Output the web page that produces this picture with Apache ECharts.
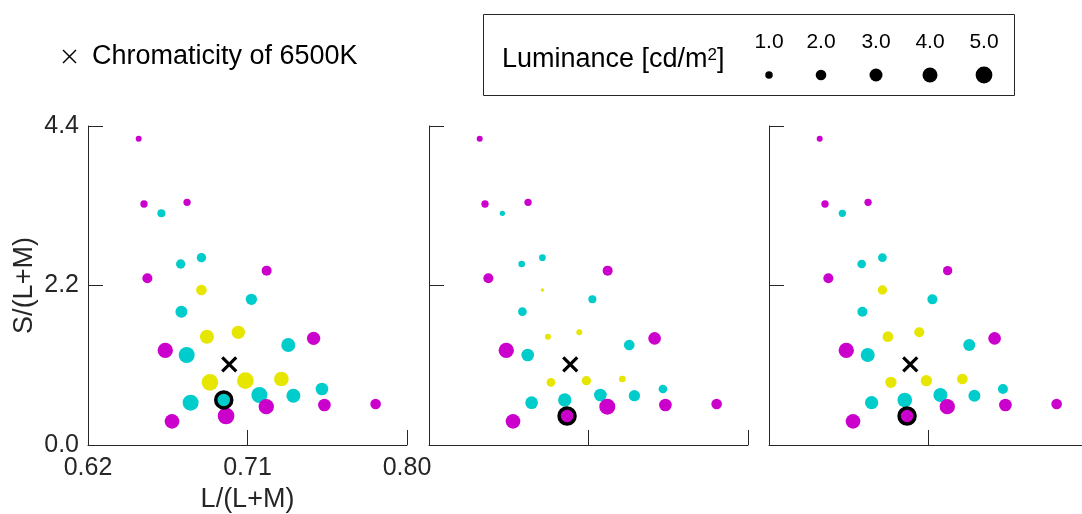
<!DOCTYPE html>
<html>
<head>
<meta charset="utf-8">
<script src="https://cdn.jsdelivr.net/npm/echarts@6/dist/echarts.min.js"></script>
<style>
  html, body { margin: 0; padding: 0; background: #fff; }
  #chart { width: 1082px; height: 514px; }
</style>
</head>
<body>
<div id="chart"></div>
<script>
// Chromaticity coordinates of the stimuli: L/(L+M) and S/(L+M)
const magentaLM = [0.6486, 0.6516, 0.6759, 0.6535, 0.7208, 0.6636, 0.7473, 0.6674, 0.6979, 0.7206, 0.7534, 0.7823];
const magentaS  = [4.225, 3.324, 3.347, 2.299, 2.405, 1.306, 1.471, 0.326, 0.400, 0.529, 0.552, 0.566];
const cyanLM    = [0.6614, 0.6723, 0.6840, 0.7122, 0.6727, 0.6757, 0.7330, 0.7520, 0.6779, 0.6966, 0.7167, 0.7359];
const cyanS     = [3.195, 2.497, 2.584, 2.009, 1.839, 1.241, 1.379, 0.772, 0.584, 0.621, 0.690, 0.680];
const yellowLM  = [0.6840, 0.6871, 0.7048, 0.6888, 0.7088, 0.7291];
const yellowS   = [2.138, 1.494, 1.554, 0.864, 0.887, 0.910];

// Luminance [cd/m2] of every stimulus, one array per panel
const magentaLum1 = [0.64, 0.96, 0.96, 1.78, 1.78, 4.18, 3.16, 3.82, 4.94, 4.18, 2.85, 2.02];
const magentaLum2 = [0.64, 0.96, 0.96, 1.78, 1.78, 4.18, 2.85, 3.82, 4.55, 4.55, 2.85, 2.02];
const magentaLum3 = [0.64, 0.96, 0.96, 1.78, 1.55, 4.18, 2.85, 3.82, 4.55, 4.18, 2.85, 2.02];
const cyanLum1    = [1.14, 1.55, 1.55, 2.28, 2.56, 4.55, 3.48, 2.85, 4.55, 4.55, 4.55, 3.48];
const cyanLum2    = [0.51, 0.79, 0.79, 1.14, 1.34, 2.85, 2.02, 1.34, 2.85, 3.16, 2.85, 2.28];
const cyanLum3    = [0.96, 1.34, 1.34, 1.78, 1.78, 3.48, 2.56, 1.78, 3.16, 3.82, 3.48, 2.56];
const yellowLum1  = [2.02, 3.48, 3.16, 4.94, 4.94, 3.82];
const yellowLum2  = [0.20, 0.64, 0.64, 1.34, 1.55, 0.79];
const yellowLum3  = [1.55, 2.02, 1.78, 2.28, 2.28, 2.02];

// Stimulus outlined in black in each panel: [group, index]
const outlined = [['cyan', 9], ['magenta', 8], ['magenta', 8]];

// Chromaticity of the 6500K white point
const whitePoint = [0.6997, 1.113];

// Axis ticks and size legend values
const xTicks = [0.62, 0.71, 0.80];
const yTicks = [0, 2.2, 4.4];
const legendLum = [1, 2, 3, 4, 5];

const FONT = '"Liberation Sans", Arial, Helvetica, sans-serif';
const AXIS_COLOR = '#262626';
const COLORS = { magenta: '#cc00cc', cyan: '#00cccc', yellow: '#e6e600' };
const sizeOf = (lum) => 7.5 * Math.sqrt(lum);

const groups = {
  magenta: { lm: magentaLM, s: magentaS, lum: [magentaLum1, magentaLum2, magentaLum3] },
  cyan:    { lm: cyanLM,    s: cyanS,    lum: [cyanLum1, cyanLum2, cyanLum3] },
  yellow:  { lm: yellowLM,  s: yellowS,  lum: [yellowLum1, yellowLum2, yellowLum3] }
};

const panelLeft = [88, 429, 769];
const grid = panelLeft.map(l => ({
  left: l, top: 126, width: 319, height: 319, outerBoundsMode: 'none', containLabel: false
}));

const xAxis = panelLeft.map((_, i) => ({
  gridIndex: i, type: 'value', min: 0.62, max: 0.80,
  axisLine: { show: true, onZero: false, lineStyle: { color: AXIS_COLOR, width: 1 } },
  axisTick: { show: true, inside: true, length: 15, customValues: xTicks, lineStyle: { color: AXIS_COLOR, width: 1 } },
  axisLabel: { show: i === 0, customValues: xTicks, formatter: v => v.toFixed(2),
               fontSize: 25, color: AXIS_COLOR, fontFamily: FONT, margin: 11 },
  splitLine: { show: false },
  name: i === 0 ? 'L/(L+M)' : '', nameLocation: 'middle', nameGap: 40,
  nameTextStyle: { fontSize: 27, color: AXIS_COLOR, fontFamily: FONT }
}));

const yAxis = panelLeft.map((_, i) => ({
  gridIndex: i, type: 'value', min: 0, max: 4.4,
  axisLine: { show: true, onZero: false, lineStyle: { color: AXIS_COLOR, width: 1 } },
  axisTick: { show: true, inside: true, length: 15, customValues: yTicks, lineStyle: { color: AXIS_COLOR, width: 1 } },
  axisLabel: { show: i === 0, customValues: yTicks, formatter: v => v.toFixed(1),
               fontSize: 25, color: AXIS_COLOR, fontFamily: FONT, margin: 9 },
  splitLine: { show: false },
  name: i === 0 ? 'S/(L+M)' : '', nameLocation: 'middle', nameGap: 50, nameRotate: 90,
  nameTextStyle: { fontSize: 27, color: AXIS_COLOR, fontFamily: FONT }
}));

const series = [];
panelLeft.forEach((_, p) => {
  ['cyan', 'yellow', 'magenta'].forEach(name => {
    const g = groups[name];
    series.push({
      type: 'scatter', xAxisIndex: p, yAxisIndex: p, silent: true,
      data: g.lm.map((x, k) => [x, g.s[k], g.lum[p][k]]),
      symbolSize: v => sizeOf(v[2]),
      itemStyle: { color: COLORS[name], opacity: 1 }
    });
  });
  // outlined stimulus
  const [gName, idx] = outlined[p];
  const g = groups[gName];
  series.push({
    type: 'scatter', xAxisIndex: p, yAxisIndex: p, silent: true,
    data: [[g.lm[idx], g.s[idx], g.lum[p][idx]]],
    symbolSize: v => sizeOf(v[2]),
    itemStyle: { color: COLORS[gName], borderColor: '#000', borderWidth: 3.5, opacity: 1 }
  });
  // white point cross
  series.push({
    type: 'scatter', xAxisIndex: p, yAxisIndex: p, silent: true,
    data: [whitePoint],
    symbol: 'path://M0,0L10,10M10,0L0,10',
    symbolSize: 14,
    itemStyle: { color: 'rgba(0,0,0,0)', borderColor: '#000', borderWidth: 3.2, opacity: 1 }
  });
});

// Legends drawn as graphic elements
const legendX = [769, 821, 876, 930, 984];
const graphic = [
  { type: 'line', shape: { x1: 63, y1: 50, x2: 76, y2: 63 }, style: { stroke: '#000', lineWidth: 1.4 } },
  { type: 'line', shape: { x1: 76, y1: 50, x2: 63, y2: 63 }, style: { stroke: '#000', lineWidth: 1.4 } },
  { type: 'text', x: 92, y: 57, style: { text: 'Chromaticity of 6500K', font: '27px ' + FONT,
    fill: '#000', verticalAlign: 'middle' } },
  { type: 'rect', shape: { x: 483.5, y: 14.5, width: 531, height: 81 },
    style: { fill: '#fff', stroke: AXIS_COLOR, lineWidth: 1 } },
  { type: 'text', x: 502, y: 60, style: {
    text: 'Luminance [cd/m{sup|2}]', font: '27px ' + FONT, fill: '#000', verticalAlign: 'middle',
    rich: { sup: { fontSize: 17, fontFamily: FONT, fill: '#000', verticalAlign: 'top', padding: [0, 0, 10, 0] } }
  } }
];
legendLum.forEach((v, k) => {
  graphic.push({ type: 'text', x: legendX[k], y: 42, style: { text: v.toFixed(1), font: '21px ' + FONT,
    fill: '#000', align: 'center', verticalAlign: 'middle' } });
  graphic.push({ type: 'circle', shape: { cx: legendX[k], cy: 75, r: sizeOf(v) / 2 }, style: { fill: '#000' } });
});

const chart = echarts.init(document.getElementById('chart'), null, { renderer: 'canvas' });
chart.setOption({
  animation: false,
  backgroundColor: '#fff',
  grid, xAxis, yAxis, series, graphic
});
</script>
</body>
</html>
